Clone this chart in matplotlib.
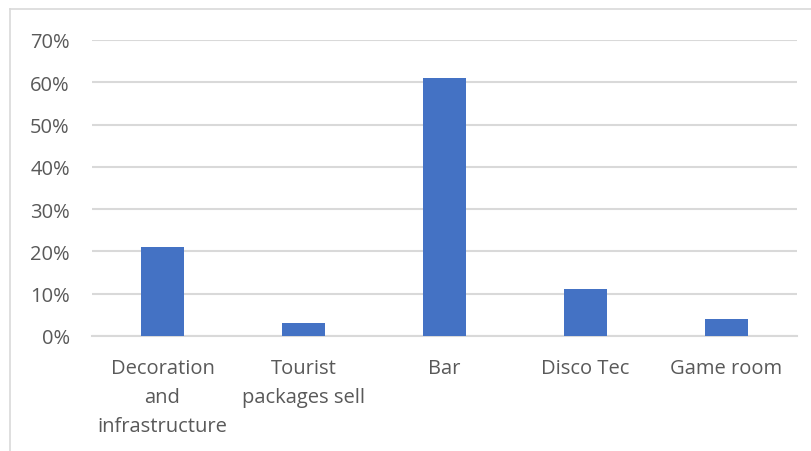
import matplotlib.pyplot as plt
from matplotlib.lines import Line2D
from matplotlib.ticker import PercentFormatter

categories = ['Decoration\nand\ninfrastructure', 'Tourist\npackages sell', 'Bar',
              'Disco Tec', 'Game room']
shares = [0.21, 0.03, 0.61, 0.11, 0.04]
y_ticks = [0, 0.1, 0.2, 0.3, 0.4, 0.5, 0.6, 0.7]

plt.rcParams['font.family'] = ['Open Sans', 'DejaVu Sans']
text_color = '#595959'
grid_color = '#d9d9d9'

fig = plt.figure(figsize=(8.11, 4.52), dpi=100)
ax = fig.add_axes([92 / 811, 1 - 337 / 452, (797 - 92) / 811, (337 - 41) / 452])

ax.bar(range(len(shares)), shares, width=0.31, color='#4472C4', zorder=3)
ax.set_xlim(-0.5, len(shares) - 0.5)
ax.set_ylim(0, 0.7)
ax.set_yticks(y_ticks)
ax.yaxis.set_major_formatter(PercentFormatter(1.0, decimals=0))
ax.set_xticks(range(len(shares)))
ax.set_xticklabels(categories, linespacing=1.58)

ax.grid(axis='y', color=grid_color, linewidth=1.5, zorder=0)
for side in ['top', 'right', 'left']:
    ax.spines[side].set_visible(False)
ax.spines['bottom'].set_color(grid_color)
ax.spines['bottom'].set_linewidth(1.5)
ax.tick_params(axis='both', length=0, labelsize=14.5, colors=text_color)
ax.tick_params(axis='y', pad=16)
ax.tick_params(axis='x', pad=16)

# chart frame, cut off on the right and bottom
fig.add_artist(Line2D([10 / 811, 10 / 811], [0, 1 - 10 / 452], color=grid_color, lw=1.2))
fig.add_artist(Line2D([10 / 811, 1], [1 - 10 / 452, 1 - 10 / 452], color=grid_color, lw=1.2))

fig.savefig('out.png', dpi=100)
